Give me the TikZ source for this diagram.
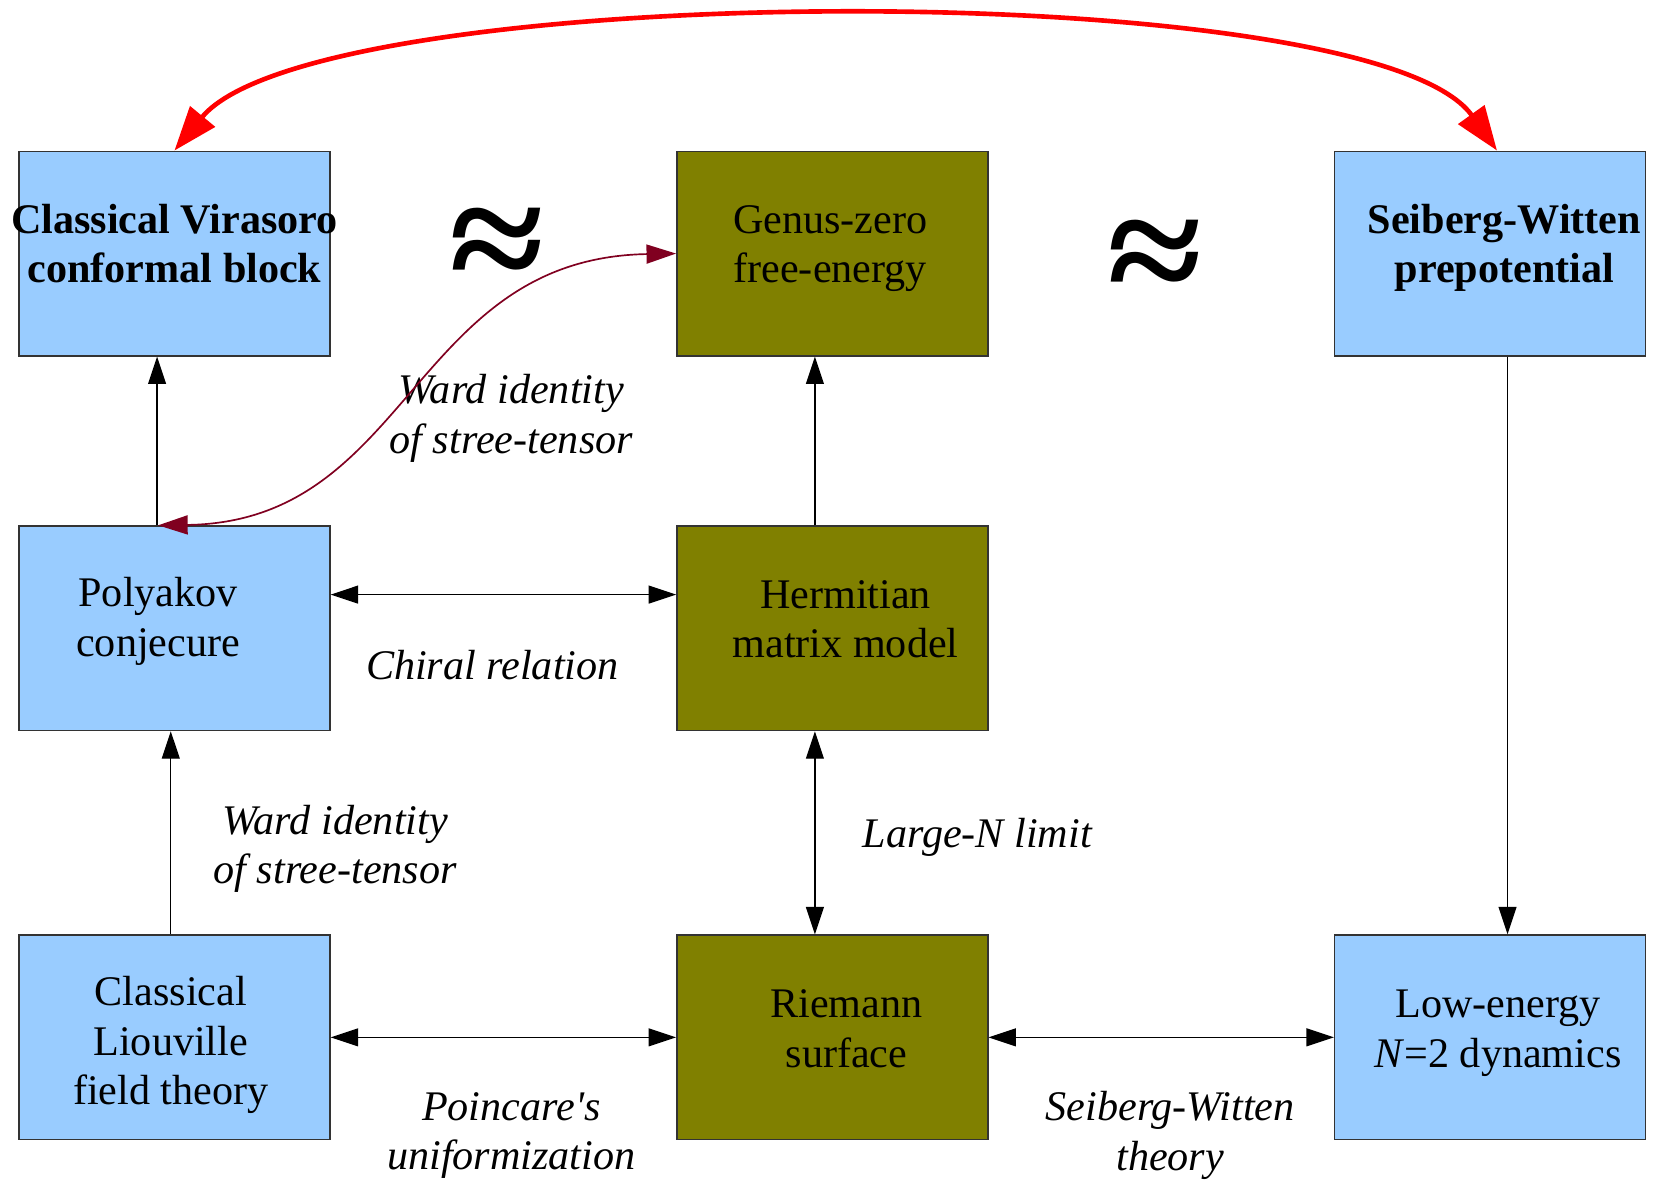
\documentclass[tikz,border=0pt]{standalone}
\usepackage{fontspec}
\usepackage{graphicx}
\setmainfont{Liberation Serif}
\usetikzlibrary{arrows.meta,calc}
\definecolor{boxblue}{HTML}{99CCFF}
\definecolor{boxolive}{HTML}{808000}
\definecolor{wardred}{HTML}{800020}
\definecolor{edgegray}{HTML}{333333}
% #1 = horizontal shift, #2 = raise, #3 = lines
\newcommand{\btxt}[3]{\raisebox{#2}[0pt][0pt]{\makebox[0pt]{\hspace*{#1}\begin{tabular}{@{}c@{}}#3\end{tabular}\hspace*{-#1}}}}
\newcommand{\straightapos}{{\addfontfeatures{Ligatures=TeXOff}'}}
\begin{document}
\begin{tikzpicture}[x=0.5pt,y=-0.5pt,
  every node/.style={font=\fontsize{20}{23.5}\selectfont},
  bluebox/.style={draw=edgegray,line width=0.7pt,fill=boxblue,minimum width=147.5pt,minimum height=97pt,inner sep=0pt},
  olivebox/.style={bluebox,fill=boxolive},
  lab/.style={font=\fontsize{20}{23.5}\selectfont\itshape,align=center,inner sep=0pt},
  arr/.style={line width=0.6pt,-{Triangle[length=13pt,width=8.5pt]}},
  darr/.style={line width=0.6pt,{Triangle[length=13pt,width=8.5pt]}-{Triangle[length=13pt,width=8.5pt]}},
  approx/.style={inner sep=0pt},
]
\useasboundingbox (0,0) rectangle (1568,1121);

% boxes
\node[bluebox] (cv) at (165.5,240.5) {\btxt{0pt}{-2.5pt}{\bfseries Classical Virasoro\\\bfseries conformal block}};
\node[olivebox] (gz) at (789.5,240.5) {\btxt{-1pt}{-2.5pt}{Genus-zero\\free-energy}};
\node[bluebox] (sw) at (1413.5,240.5) {\btxt{6.75pt}{-2.5pt}{\bfseries Seiberg-Witten\\\bfseries prepotential}};
\node[bluebox] (pc) at (165.5,596) {\btxt{-7.75pt}{-2pt}{Polyakov\\conjecure}};
\node[olivebox] (hm) at (789.5,596) {\btxt{6.25pt}{-2.75pt}{Hermitian\\matrix model}};
\node[bluebox] (cl) at (165.5,984) {\btxt{-1.75pt}{-9pt}{Classical\\Liouville\\field theory}};
\node[olivebox] (rs) at (789.5,984) {\btxt{6.75pt}{-3pt}{Riemann\\surface}};
\node[bluebox] (le) at (1413.5,984) {\btxt{3.75pt}{-3pt}{Low-energy\\\textit{N}=2 dynamics}};

% approx symbols
\node[approx] (ap1) at (471,237) {\resizebox{45pt}{40pt}{\bfseries ≈}};
\node[approx] (ap2) at (1096,249) {\resizebox{45pt}{40pt}{\bfseries ≈}};

% labels
\node[lab] (l1) at (485,397) {Ward identity\\of stree-tensor};
\node[lab] (l2) at (467,631) {Chiral relation};
\node[lab] (l3) at (318,805) {Ward identity\\of stree-tensor};
\node[lab] (l4) at (927,794) {Large-N limit};
\node[lab] (l5) at (485,1077) {Poincare\straightapos s\\uniformization};
\node[lab] (l6) at (1110,1077) {Seiberg-Witten\\theory};

% connectors
\draw[arr] ([xshift=-8.25pt]pc.north) -- ([xshift=-8.25pt]cv.south);
\draw[arr] ([xshift=-8.25pt]hm.north) -- ([xshift=-8.25pt]gz.south);
\draw[arr] ([xshift=-1.75pt]cl.north) -- ([xshift=-1.75pt]pc.south);
\draw[darr] ([xshift=-8.25pt]hm.south) -- ([xshift=-8.25pt]rs.north);
\draw[arr] ([xshift=8.25pt]sw.south) -- ([xshift=8.25pt]le.north);
\draw[darr] ([yshift=16pt]pc.east) -- ([yshift=16pt]hm.west);
\draw[darr] (cl.east) -- (rs.west);
\draw[darr] (rs.east) -- (le.west);

\draw[wardred,line width=0.8pt,{Triangle[length=14pt,width=9pt]}-{Triangle[length=14pt,width=9pt]}]
  (gz.west) .. controls (390,245) and (390,495) .. ([xshift=-7.75pt]pc.north);

\draw[red,line width=2.2pt,{Triangle[length=21pt,width=15pt]}-{Triangle[length=21pt,width=15pt]}]
  (cv.north) .. controls (300,-20) and (1300,-25) .. ([xshift=3.25pt]sw.north);
\end{tikzpicture}
\end{document}
